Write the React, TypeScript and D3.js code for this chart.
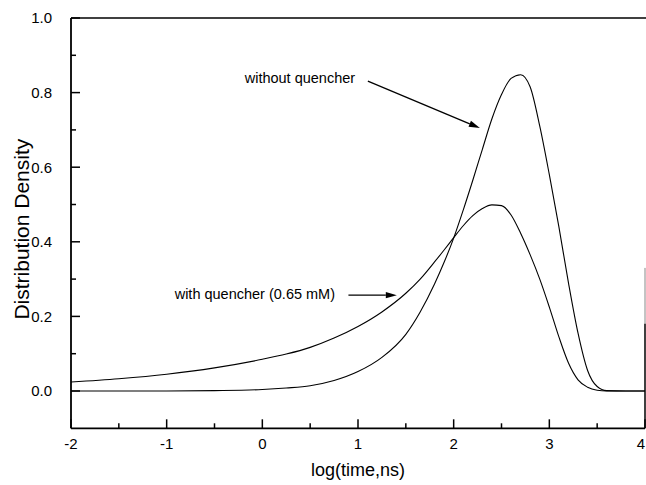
import * as d3 from "d3";

// log(time, ns) grid shared by both curves
const logTime = [
  -2, -1.5, -1, -0.5, 0, 0.25, 0.5, 0.75, 1, 1.25, 1.5, 1.65, 1.8, 1.9, 2, 2.1, 2.2, 2.3, 2.4, 2.5,
  2.6, 2.7, 2.8, 2.9, 3, 3.1, 3.2, 3.3, 3.4, 3.5, 3.6, 3.8, 4,
];
const withoutQuencher = [
  0, 0, 0, 0.001, 0.004, 0.008, 0.014, 0.028, 0.052, 0.09, 0.152, 0.212, 0.287, 0.345, 0.41, 0.485, 0.565,
  0.648, 0.73, 0.795, 0.838, 0.848, 0.815, 0.71, 0.58, 0.44, 0.29, 0.155, 0.055, 0.012, 0.001, 0, 0,
];
const withQuencher = [
  0.024, 0.033, 0.045, 0.062, 0.085, 0.099, 0.117, 0.142, 0.173, 0.212, 0.262, 0.3, 0.346, 0.378, 0.411,
  0.443, 0.47, 0.489, 0.499, 0.497, 0.472, 0.423, 0.365, 0.3, 0.225, 0.145, 0.075, 0.03, 0.01, 0.002, 0, 0, 0,
];

const xMajor = [-2, -1, 0, 1, 2, 3, 4];
const xMinor = [-1.5, -0.5, 0.5, 1.5, 2.5, 3.5];
const yMajor = [0, 0.2, 0.4, 0.6, 0.8, 1.0];
const yMinor = [0.1, 0.3, 0.5, 0.7, 0.9];

const W = 646;
const H = 485;
const font = "'Liberation Sans', Arial, sans-serif";

export default function App() {
  const x = d3.scaleLinear().domain([-2, 4]).range([71, 645]);
  const y = d3.scaleLinear().domain([-0.1, 1.0]).range([428.3, 18]);

  const line = d3
    .line<number>()
    .x((_, i) => x(logTime[i]))
    .y((d) => y(d))
    .curve(d3.curveMonotoneX);

  const x0 = x(-2);
  const x1 = x(4);
  const yb = y(-0.1);
  const yt = y(1.0);

  // annotation anchors in data units
  const a1 = { tx: 0.97, ty: 0.839, fx: 1.103, fy: 0.831, hx: 2.274, hy: 0.705 };
  const a2 = { tx: 0.76, ty: 0.26, fx: 0.9, fy: 0.257, hx: 1.406, hy: 0.257 };

  const arrow = (fx: number, fy: number, hx: number, hy: number) => {
    const px0 = x(fx), py0 = y(fy), px1 = x(hx), py1 = y(hy);
    const ang = Math.atan2(py1 - py0, px1 - px0);
    const L = 11, Wd = 3.2;
    const bx = px1 - L * Math.cos(ang), by = py1 - L * Math.sin(ang);
    const p1 = [bx + Wd * Math.sin(ang), by - Wd * Math.cos(ang)];
    const p2 = [bx - Wd * Math.sin(ang), by + Wd * Math.cos(ang)];
    return (
      <g>
        <line x1={px0} y1={py0} x2={bx} y2={by} stroke="#000" strokeWidth={1.3} />
        <polygon points={`${px1},${py1} ${p1[0]},${p1[1]} ${p2[0]},${p2[1]}`} fill="#000" />
      </g>
    );
  };

  return (
    <svg
      width={W}
      height={H}
      style={{ position: "absolute", left: 0, top: 0, background: "#fff" }}
      fontFamily={font}
    >
      <rect width={W} height={H} fill="#fff" />

      {/* frame */}
      <line x1={x0} y1={yt} x2={W} y2={yt} stroke="#000" strokeWidth={1.5} />
      <line x1={x0} y1={yt} x2={x0} y2={yb} stroke="#000" strokeWidth={1.8} />
      <line x1={x0} y1={yb} x2={x1} y2={yb} stroke="#000" strokeWidth={1.8} />
      <line x1={x1} y1={y(0.33)} x2={x1} y2={y(0.18)} stroke="#888" strokeWidth={1} />
      <line x1={x1} y1={y(0.18)} x2={x1} y2={yb} stroke="#000" strokeWidth={1.5} />

      {/* x ticks */}
      {xMajor.map((t) => (
        <g key={"xm" + t}>
          <line x1={x(t)} x2={x(t)} y1={yb} y2={yb - 9} stroke="#000" strokeWidth={1.5} />
          <text x={Math.min(x(t), 641)} y={yb + 21} textAnchor="middle" fontSize={15}>
            {t}
          </text>
        </g>
      ))}
      {xMinor.map((t) => (
        <line key={"xn" + t} x1={x(t)} x2={x(t)} y1={yb} y2={yb - 5} stroke="#000" strokeWidth={1.5} />
      ))}

      {/* y ticks */}
      {yMajor.map((t) => (
        <g key={"ym" + t}>
          <line x1={x0} x2={x0 + 9} y1={y(t)} y2={y(t)} stroke="#000" strokeWidth={1.5} />
          <text x={x0 - 19} y={y(t)} dy="0.36em" textAnchor="end" fontSize={15}>
            {t.toFixed(1)}
          </text>
        </g>
      ))}
      {yMinor.map((t) => (
        <line key={"yn" + t} x1={x0} x2={x0 + 5} y1={y(t)} y2={y(t)} stroke="#000" strokeWidth={1.5} />
      ))}

      {/* curves */}
      <path d={line(withoutQuencher) ?? ""} fill="none" stroke="#000" strokeWidth={1.1} />
      <path d={line(withQuencher) ?? ""} fill="none" stroke="#000" strokeWidth={1.1} />

      {/* annotations */}
      <text x={x(a1.tx)} y={y(a1.ty)} dy="0.35em" textAnchor="end" fontSize={14.5}>
        without quencher
      </text>
      {arrow(a1.fx, a1.fy, a1.hx, a1.hy)}
      <text x={x(a2.tx)} y={y(a2.ty)} dy="0.35em" textAnchor="end" fontSize={14.5}>
        with quencher (0.65 mM)
      </text>
      {arrow(a2.fx, a2.fy, a2.hx, a2.hy)}

      {/* axis titles */}
      <text x={(x0 + x1) / 2} y={476} textAnchor="middle" fontSize={18}>
        log(time,ns)
      </text>
      <text
        transform={`translate(29, ${(yt + yb) / 2 + 6}) rotate(-90)`}
        textAnchor="middle"
        fontSize={21}
      >
        Distribution Density
      </text>
    </svg>
  );
}
